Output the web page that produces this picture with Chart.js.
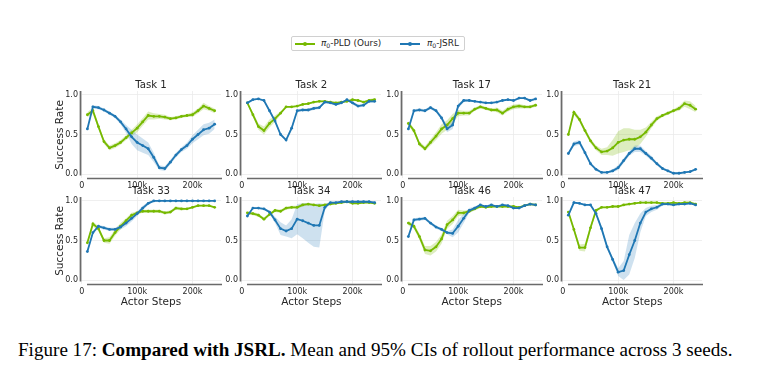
<!DOCTYPE html>
<html><head><meta charset="utf-8">
<script src="https://cdn.jsdelivr.net/npm/chart.js@4.4.1/dist/chart.umd.min.js"></script>
<style>
body{margin:0;background:#fff;width:772px;height:389px;position:relative;overflow:hidden;font-family:"DejaVu Sans",sans-serif;}
canvas{position:absolute}
.t{position:absolute;white-space:nowrap;color:#262626;line-height:1}
.title{font-size:10.2px;transform:translate(-50%,-50%)}
.ylab{font-size:10.5px;transform:translate(-50%,-50%) rotate(-90deg)}
.xlab{font-size:10.5px;transform:translate(-50%,-50%)}
#legend{position:absolute;left:291px;top:36px;width:174px;height:15px;border:1px solid #d0d0d0;border-radius:2px;box-sizing:border-box;font-size:8.9px;color:#262626}
.li{position:absolute;top:6.3px;height:1.8px;width:20px}
.ld{position:absolute;top:5.2px;width:4px;height:4px;border-radius:50%}
.lt{position:absolute;top:1.3px;white-space:nowrap}
.lt sub{font-size:6.2px;vertical-align:-1.5px}
#caption{position:absolute;left:18px;top:340px;font-family:"Liberation Serif",serif;font-size:19.1px;line-height:20.5px;color:#000;white-space:nowrap}
</style></head><body>
<div id="legend">
  <div class="li" style="left:3px;background:#76b900"></div><div class="ld" style="left:11px;background:#76b900"></div>
  <div class="lt" style="left:29px"><i>π</i><sub>0</sub>-PLD (Ours)</div>
  <div class="li" style="left:108px;background:#1f77b4"></div><div class="ld" style="left:116px;background:#1f77b4"></div>
  <div class="lt" style="left:135px"><i>π</i><sub>0</sub>-JSRL</div>
</div>
<div id="caption">Figure 17: <b>Compared with JSRL.</b> Mean and 95% CIs of rollout performance across 3 seeds.</div>
<script>
// ---- data (x in thousands of actor steps) ----
const stepsK = [10,20,30,40,50,60,70,80,90,100,110,120,130,140,150,160,170,180,190,200,210,220,230,240];
const xTickValues = [0,100,200];
const xTickLabels = ["0","100k","200k"];
const yTickValues = [0,0.5,1.0];
const yTickLabels = ["0.0","0.5","1.0"];
const taskTitles = ["Task 1","Task 2","Task 17","Task 21","Task 33","Task 34","Task 46","Task 47"];
const seriesNames = ["π0-PLD (Ours)","π0-JSRL"];

const pldTask1   = [0.75,0.80,0.60,0.41,0.33,0.36,0.40,0.46,0.52,0.58,0.66,0.74,0.73,0.73,0.72,0.70,0.71,0.73,0.74,0.75,0.80,0.86,0.83,0.80];
const pldCiTask1 = [0.03,0.04,0.03,0.03,0.03,0.03,0.03,0.03,0.04,0.05,0.05,0.05,0.04,0.03,0.03,0.02,0.02,0.02,0.02,0.03,0.03,0.04,0.03,0.03];
const jsrlTask1  = [0.57,0.85,0.84,0.81,0.77,0.73,0.66,0.57,0.47,0.40,0.36,0.32,0.21,0.08,0.07,0.15,0.24,0.31,0.36,0.44,0.50,0.56,0.58,0.63];
const jsrlCiTask1= [0.02,0.02,0.02,0.02,0.02,0.02,0.03,0.05,0.09,0.10,0.09,0.08,0.06,0.03,0.03,0.03,0.03,0.03,0.04,0.05,0.06,0.07,0.07,0.06];

const pldTask2   = [0.90,0.75,0.60,0.55,0.64,0.70,0.77,0.85,0.85,0.86,0.88,0.89,0.91,0.92,0.92,0.91,0.90,0.91,0.92,0.94,0.93,0.91,0.93,0.94];
const pldCiTask2 = [0.01,0.03,0.04,0.05,0.05,0.04,0.02,0.01,0.01,0.01,0.01,0.01,0.01,0.01,0.01,0.01,0.01,0.01,0.01,0.01,0.01,0.01,0.02,0.02];
const jsrlTask2  = [0.90,0.94,0.95,0.93,0.80,0.67,0.50,0.43,0.58,0.80,0.81,0.81,0.83,0.84,0.91,0.90,0.88,0.90,0.94,0.90,0.86,0.87,0.92,0.92];
const jsrlCiTask2= [0.01,0.01,0.01,0.01,0.02,0.02,0.02,0.02,0.03,0.02,0.02,0.02,0.02,0.02,0.01,0.01,0.01,0.01,0.01,0.02,0.02,0.02,0.02,0.02];

const pldTask17   = [0.64,0.55,0.38,0.32,0.40,0.48,0.57,0.62,0.70,0.77,0.77,0.77,0.82,0.85,0.83,0.81,0.81,0.77,0.82,0.85,0.86,0.85,0.85,0.87];
const pldCiTask17 = [0.03,0.03,0.03,0.03,0.04,0.05,0.06,0.06,0.06,0.04,0.03,0.03,0.02,0.02,0.02,0.02,0.03,0.03,0.03,0.03,0.03,0.02,0.02,0.02];
const jsrlTask17  = [0.57,0.80,0.81,0.80,0.84,0.80,0.71,0.57,0.62,0.86,0.93,0.93,0.92,0.91,0.90,0.90,0.91,0.93,0.94,0.93,0.96,0.96,0.93,0.95];
const jsrlCiTask17= [0.03,0.02,0.02,0.02,0.02,0.02,0.03,0.04,0.05,0.03,0.02,0.01,0.01,0.01,0.01,0.01,0.01,0.01,0.01,0.01,0.01,0.01,0.02,0.01];

const pldTask21   = [0.50,0.78,0.69,0.55,0.42,0.33,0.28,0.29,0.33,0.40,0.43,0.44,0.44,0.47,0.53,0.62,0.70,0.74,0.77,0.80,0.83,0.89,0.87,0.82];
const pldCiTask21 = [0.02,0.03,0.03,0.03,0.03,0.03,0.04,0.05,0.10,0.14,0.15,0.14,0.12,0.09,0.06,0.04,0.03,0.02,0.02,0.02,0.03,0.04,0.05,0.04];
const jsrlTask21  = [0.26,0.38,0.40,0.27,0.13,0.06,0.02,0.02,0.04,0.08,0.17,0.26,0.32,0.32,0.26,0.20,0.13,0.07,0.04,0.01,0.01,0.02,0.03,0.06];
const jsrlCiTask21= [0.02,0.03,0.03,0.03,0.02,0.02,0.01,0.01,0.02,0.03,0.03,0.03,0.04,0.04,0.03,0.03,0.02,0.02,0.01,0.01,0.01,0.01,0.01,0.01];

const pldTask33   = [0.47,0.71,0.65,0.50,0.50,0.60,0.68,0.75,0.82,0.85,0.87,0.87,0.87,0.87,0.85,0.86,0.91,0.90,0.90,0.92,0.94,0.94,0.94,0.92];
const pldCiTask33 = [0.02,0.03,0.03,0.03,0.04,0.04,0.04,0.03,0.03,0.02,0.02,0.02,0.02,0.02,0.02,0.02,0.02,0.02,0.01,0.01,0.01,0.01,0.01,0.01];
const jsrlTask33  = [0.36,0.60,0.68,0.66,0.64,0.64,0.67,0.72,0.78,0.84,0.91,0.97,1.00,1.00,1.00,1.00,1.00,1.00,1.00,1.00,1.00,1.00,1.00,1.00];
const jsrlCiTask33= [0.02,0.02,0.02,0.02,0.02,0.02,0.03,0.04,0.04,0.03,0.03,0.02,0.01,0.00,0.00,0.00,0.00,0.00,0.00,0.00,0.00,0.00,0.00,0.00];

const pldTask34   = [0.85,0.84,0.82,0.77,0.83,0.88,0.87,0.91,0.92,0.92,0.95,0.96,0.95,0.94,0.95,0.96,0.97,0.98,0.99,0.97,0.97,0.98,0.98,0.97];
const pldCiTask34 = [0.02,0.02,0.02,0.02,0.02,0.02,0.02,0.02,0.02,0.02,0.02,0.01,0.01,0.01,0.01,0.01,0.01,0.01,0.01,0.01,0.01,0.01,0.01,0.01];
const jsrlTask34  = [0.81,0.91,0.91,0.90,0.86,0.76,0.65,0.62,0.65,0.77,0.75,0.72,0.69,0.69,0.92,0.98,0.98,0.99,0.99,0.99,0.99,0.99,0.99,0.98];
const jsrlCiTask34= [0.02,0.01,0.01,0.01,0.02,0.04,0.08,0.07,0.12,0.19,0.22,0.25,0.27,0.28,0.04,0.01,0.01,0.01,0.01,0.01,0.01,0.01,0.01,0.01];

const pldTask46   = [0.72,0.68,0.55,0.38,0.37,0.42,0.52,0.70,0.76,0.85,0.85,0.87,0.90,0.93,0.92,0.93,0.93,0.93,0.93,0.93,0.92,0.94,0.96,0.95];
const pldCiTask46 = [0.03,0.03,0.04,0.05,0.06,0.06,0.06,0.05,0.05,0.04,0.03,0.02,0.02,0.02,0.01,0.01,0.01,0.01,0.01,0.01,0.01,0.01,0.01,0.01];
const jsrlTask46  = [0.55,0.76,0.77,0.78,0.72,0.67,0.64,0.60,0.59,0.68,0.78,0.88,0.91,0.95,0.93,0.95,0.93,0.95,0.94,0.91,0.91,0.94,0.96,0.95];
const jsrlCiTask46= [0.02,0.02,0.02,0.02,0.02,0.02,0.02,0.02,0.05,0.08,0.06,0.03,0.02,0.01,0.01,0.01,0.01,0.01,0.01,0.01,0.01,0.01,0.01,0.01];

const pldTask47   = [0.86,0.64,0.41,0.41,0.66,0.88,0.92,0.92,0.93,0.93,0.95,0.96,0.97,0.98,0.98,0.98,0.98,0.97,0.97,0.98,0.97,0.98,0.98,0.96];
const pldCiTask47 = [0.02,0.03,0.04,0.05,0.03,0.02,0.01,0.01,0.01,0.01,0.01,0.01,0.01,0.01,0.01,0.01,0.01,0.01,0.01,0.01,0.01,0.01,0.01,0.01];
const jsrlTask47  = [0.82,0.98,0.97,0.95,0.95,0.84,0.65,0.42,0.26,0.10,0.12,0.32,0.50,0.72,0.86,0.90,0.92,0.96,0.96,0.95,0.96,0.96,0.97,0.95];
const jsrlCiTask47= [0.02,0.01,0.01,0.01,0.01,0.02,0.03,0.03,0.03,0.05,0.12,0.25,0.22,0.12,0.05,0.04,0.03,0.02,0.01,0.01,0.01,0.01,0.01,0.01];

const panels = [
  {pld:pldTask1,  pldCi:pldCiTask1,  jsrl:jsrlTask1,  jsrlCi:jsrlCiTask1},
  {pld:pldTask2,  pldCi:pldCiTask2,  jsrl:jsrlTask2,  jsrlCi:jsrlCiTask2},
  {pld:pldTask17, pldCi:pldCiTask17, jsrl:jsrlTask17, jsrlCi:jsrlCiTask17},
  {pld:pldTask21, pldCi:pldCiTask21, jsrl:jsrlTask21, jsrlCi:jsrlCiTask21},
  {pld:pldTask33, pldCi:pldCiTask33, jsrl:jsrlTask33, jsrlCi:jsrlCiTask33},
  {pld:pldTask34, pldCi:pldCiTask34, jsrl:jsrlTask34, jsrlCi:jsrlCiTask34},
  {pld:pldTask46, pldCi:pldCiTask46, jsrl:jsrlTask46, jsrlCi:jsrlCiTask46},
  {pld:pldTask47, pldCi:pldCiTask47, jsrl:jsrlTask47, jsrlCi:jsrlCiTask47}
];

// ---- layout / style ----
const GREEN = '#76b900', BLUE = '#1f77b4';
const GREEN_BAND = 'rgba(118,185,0,0.25)', BLUE_BAND = 'rgba(31,119,180,0.22)';
const colLeft = [81, 241.4, 401.8, 562.2];
const rowTop = [91, 197];
const PW = 140, PH = 87, YW = 30, PADT = 8, PADR = 6, XH = 18;
const TXT = '#262626';

const spinePlugin = {
  id: 'spines',
  beforeDatasetsDraw(chart) {
    const a = chart.chartArea, c = chart.ctx;
    c.save();
    c.strokeStyle = '#6a6a6a'; c.lineWidth = 1.7;
    c.beginPath();
    c.moveTo(a.left - 0.5, a.top); c.lineTo(a.left - 0.5, a.bottom - 2.5);
    c.moveTo(a.left + 6, a.bottom + 0.5); c.lineTo(a.right + 1, a.bottom + 0.5);
    c.stroke();
    c.restore();
  }
};

function line(mean) { return mean.map((v, i) => ({x: stepsK[i], y: v})); }
function edge(mean, ci, s) { return mean.map((v, i) => ({x: stepsK[i], y: v + s * ci[i]})); }

function addText(cls, txt, x, y) {
  const d = document.createElement('div');
  d.className = 't ' + cls; d.textContent = txt;
  d.style.left = x + 'px'; d.style.top = y + 'px';
  document.body.appendChild(d);
}

panels.forEach((p, k) => {
  const col = k % 4, row = Math.floor(k / 4);
  const L = colLeft[col], T = rowTop[row];
  const cv = document.createElement('canvas');
  const W = YW + PW + PADR, H = PADT + PH + XH;
  cv.width = W; cv.height = H;
  cv.style.left = (L - YW) + 'px'; cv.style.top = (T - PADT) + 'px';
  cv.style.width = W + 'px'; cv.style.height = H + 'px';
  document.body.appendChild(cv);

  addText('title', taskTitles[k], L + PW / 2, T - 6);
  if (col === 0) addText('ylab', 'Success Rate', 58.5, T + PH / 2);
  if (row === 1) addText('xlab', 'Actor Steps', L + PW / 2, 301);

  const meanDs = (data, color, label) => ({
    label, data, borderColor: color, backgroundColor: color, borderWidth: 1.8,
    pointRadius: 1.4, pointBorderWidth: 0, pointBackgroundColor: color, fill: false, tension: 0
  });
  const edgeDs = (data, fill, bg) => ({
    data, borderWidth: 0, pointRadius: 0, borderColor: 'rgba(0,0,0,0)', backgroundColor: bg, fill, tension: 0
  });

  new Chart(cv, {
    type: 'line',
    data: {
      datasets: [
        meanDs(line(p.jsrl), BLUE, seriesNames[1]),
        meanDs(line(p.pld), GREEN, seriesNames[0]),
        edgeDs(edge(p.jsrl, p.jsrlCi, -1), false, BLUE_BAND),
        edgeDs(edge(p.jsrl, p.jsrlCi, 1), 2, BLUE_BAND),
        edgeDs(edge(p.pld, p.pldCi, -1), false, GREEN_BAND),
        edgeDs(edge(p.pld, p.pldCi, 1), 4, GREEN_BAND)
      ]
    },
    options: {
      responsive: false, animation: false, devicePixelRatio: 1,
      layout: {padding: {top: PADT, right: PADR, left: 0, bottom: 0}},
      plugins: {legend: {display: false}, tooltip: {enabled: false}, title: {display: false}},
      scales: {
        x: {
          type: 'linear', min: -1.5, max: 251.5,
          afterBuildTicks: s => { s.ticks = xTickValues.map(v => ({value: v})); },
          afterFit: s => { s.height = XH; },
          grid: {color: '#ebebeb', lineWidth: 0.8, drawTicks: false},
          border: {display: false},
          ticks: {padding: 3, color: TXT, font: {family: 'DejaVu Sans', size: 8}, maxRotation: 0,
                  callback: v => xTickLabels[xTickValues.indexOf(v)]}
        },
        y: {
          type: 'linear', min: -0.05, max: 1.05,
          afterBuildTicks: s => { s.ticks = yTickValues.map(v => ({value: v})); },
          afterFit: s => { s.width = YW; },
          grid: {color: '#ebebeb', lineWidth: 0.8, drawTicks: false},
          border: {display: false},
          ticks: {padding: 3, color: TXT, font: {family: 'DejaVu Sans', size: 8},
                  callback: v => yTickLabels[yTickValues.indexOf(v)]}
        }
      }
    },
    plugins: [spinePlugin]
  });
});
</script>
</body></html>
